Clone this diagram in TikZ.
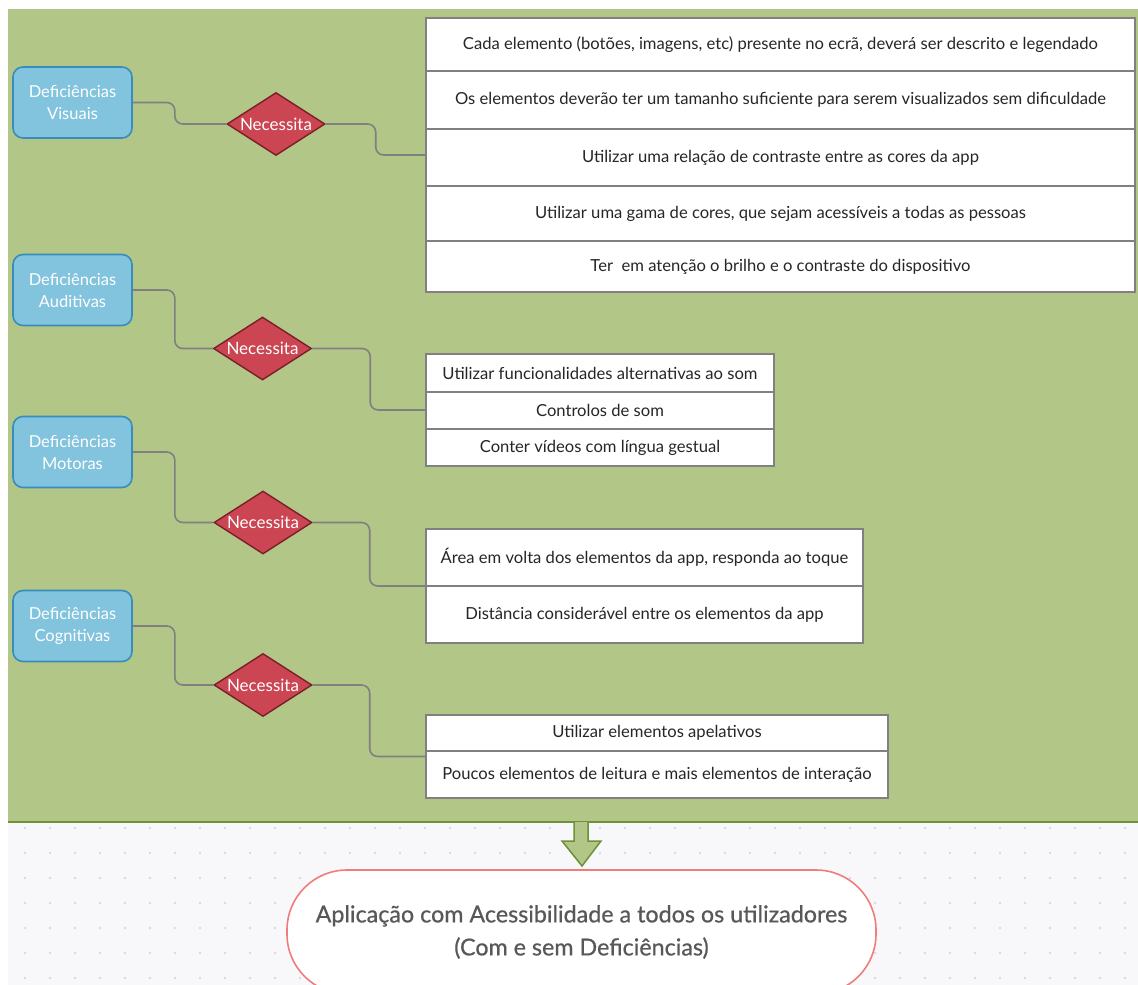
\documentclass[tikz,border=0pt]{standalone}
\usepackage{fontspec}
\setmainfont{Lato}
\usetikzlibrary{shapes.geometric,fit}

\definecolor{panel}{HTML}{B2C687}
\definecolor{panelline}{HTML}{6F9139}
\definecolor{paper}{HTML}{F8F8FA}
\definecolor{dotc}{HTML}{D9D9DF}
\definecolor{bluefill}{HTML}{82C3DD}
\definecolor{blueline}{HTML}{3A8CBB}
\definecolor{redfill}{HTML}{CC4552}
\definecolor{redline}{HTML}{7A1E28}
\definecolor{wire}{HTML}{808080}
\definecolor{pinkline}{HTML}{F07C7C}
\definecolor{goaltext}{HTML}{585858}
\definecolor{itemtext}{HTML}{262626}

\begin{document}
\begin{tikzpicture}[x=1pt,y=-1pt,
  deficit/.style={draw=blueline, line width=1.6pt, fill=bluefill, rounded corners=10pt,
    minimum width=119pt, minimum height=71pt, text=white, align=center, inner sep=0pt,
    font=\fontsize{16.5}{22}\selectfont},
  need/.style={diamond, draw=redline, line width=1.4pt, fill=redfill, aspect=1.556,
    minimum width=98pt, minimum height=63pt, inner sep=0pt, text=white,
    font=\fontsize{17}{20}\selectfont},
  item/.style={draw=wire, line width=1.5pt, fill=white, inner sep=0pt, text=itemtext,
    font=\fontsize{16.6}{19}\selectfont},
  group/.style={inner sep=0pt},
  conn/.style={draw=wire, line width=1.6pt, rounded corners=8pt},
  goalbox/.style={draw=pinkline, line width=1.6pt, fill=white, rounded corners=60pt,
    minimum width=589pt, minimum height=124pt, align=center, text=goaltext,
    font=\fontsize{23.3}{33}\selectfont\addfontfeature{FakeBold=0.6}}]

\useasboundingbox (0,0) rectangle (1138,985);
\clip (0,0) rectangle (1138,985);

% backgrounds: green panel above, dotted canvas below
\fill[white] (0,0) rectangle (1138,985);
\fill[panel] (8,9) rectangle (1138,822);
\fill[paper] (8,822) rectangle (1138,985);
\foreach \i in {1,...,45}
  \foreach \j in {0,...,6}
    \fill[dotc] (25*\i, 828+25*\j) circle (1.3pt);
\draw[panelline, line width=1.6pt] (8,822) -- (1138,822);

% block arrow leading down to the goal
\coordinate (aL) at (574,822);
\coordinate (aR) at (588,822);
\fill[panel] (aL) -- ++(0,19) -- ++(-12,0) -- (582,866) -- (601,841) -- ++(-13,0) -- (aR) -- cycle;
\draw[panelline, line width=1.5pt, line join=miter] (aL) -- ++(0,19) -- ++(-12,0) -- (582,866) -- (601,841) -- ++(-13,0) -- (aR);

% --- Visual ---
\node[deficit] (bv) at (72.5,102.5) {Deficiências\\Visuais};
\node[need] (nv) at (276,124) {Necessita};
\node[item, minimum width=709pt, minimum height=53pt] (v1) at (780.5,44.5)
  {Cada elemento (botões, imagens, etc) presente no ecrã, deverá ser descrito e legendado};
\node[item, minimum width=709pt, minimum height=58pt] (v2) at (780.5,100)
  {Os elementos deverão ter um tamanho suficiente para serem visualizados sem dificuldade};
\node[item, minimum width=709pt, minimum height=57pt] (v3) at (780.5,157.5)
  {Utilizar uma relação de contraste entre as cores da app};
\node[item, minimum width=709pt, minimum height=55pt] (v4) at (780.5,213.5)
  {Utilizar uma gama de cores, que sejam acessíveis a todas as pessoas};
\node[item, minimum width=709pt, minimum height=51pt] (v5) at (780.5,266.5)
  {Ter\ \ em atenção o brilho e o contraste do dispositivo};
\node[group, fit=(v1)(v5)] (gv) {};
\draw[conn] (bv.east) -- ++(42,0) |- (nv.west);
\draw[conn] (nv.east) -- ++(50,0) |- (gv.west);

% --- Hearing ---
\node[deficit] (ba) at (72.5,290) {Deficiências\\Auditivas};
\node[need] (na) at (262.5,348.5) {Necessita};
\node[item, minimum width=348pt, minimum height=38pt] (a1) at (600,373)
  {Utilizar funcionalidades alternativas ao som};
\node[item, minimum width=348pt, minimum height=37pt] (a2) at (600,410.5)
  {Controlos de som};
\node[item, minimum width=348pt, minimum height=37pt] (a3) at (600,447.5)
  {Conter vídeos com língua gestual};
\node[group, fit=(a1)(a3)] (ga) {};
\draw[conn] (ba.east) -- ++(42,0) |- (na.west);
\draw[conn] (na.east) -- ++(58,0) |- (ga.west);

% --- Motor ---
\node[deficit] (bm) at (72.5,452) {Deficiências\\Motoras};
\node[need] (nm) at (263,522.5) {Necessita};
\node[item, minimum width=437pt, minimum height=57pt] (m1) at (644.5,557.5)
  {Área em volta dos elementos da app, responda ao toque};
\node[item, minimum width=437pt, minimum height=57pt] (m2) at (644.5,614.5)
  {Distância considerável entre os elementos da app};
\node[group, fit=(m1)(m2)] (gm) {};
\draw[conn] (bm.east) -- ++(42,0) |- (nm.west);
\draw[conn] (nm.east) -- ++(57,0) |- (gm.west);

% --- Cognitive ---
\node[deficit] (bc) at (72.5,626) {Deficiências\\Cognitivas};
\node[need] (nc) at (263,685) {Necessita};
\node[item, minimum width=462pt, minimum height=36pt] (c1) at (657,733)
  {Utilizar elementos apelativos};
\node[item, minimum width=462pt, minimum height=47pt] (c2) at (657,774.5)
  {Poucos elementos de leitura e mais elementos de interação};
\node[group, fit=(c1)(c2)] (gc) {};
\draw[conn] (bc.east) -- ++(42,0) |- (nc.west);
\draw[conn] (nc.east) -- ++(57,0) |- (gc.west);

% --- goal ---
\node[goalbox] (goal) at (581.5,932)
  {Aplicação com Acessibilidade a todos os utilizadores\\(Com e sem Deficiências)};

\end{tikzpicture}
\end{document}
